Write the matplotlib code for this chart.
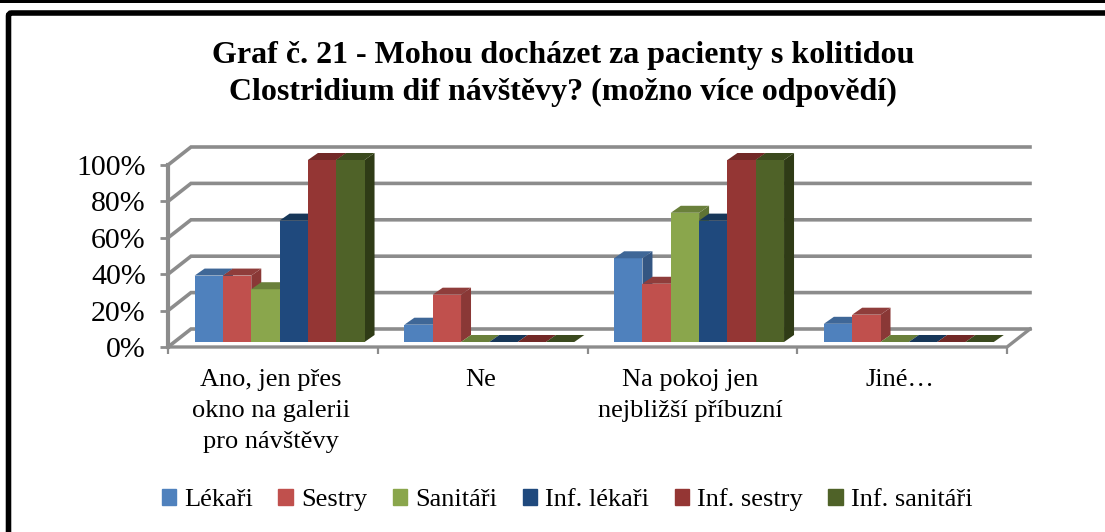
# Graf c. 21 - 3D style clustered columns drawn on a flat axes

import matplotlib
matplotlib.use("Agg")
import matplotlib.pyplot as plt
from matplotlib.patches import Polygon, FancyBboxPatch, Rectangle

categories = ["Ano, jen přes\nokno na galerii\npro návštěvy", "Ne", "Na pokoj jen\nnejbližší příbuzní", "Jiné…"]
series_names = ["Lékaři", "Sestry", "Sanitáři", "Inf. lékaři", "Inf. sestry", "Inf. sanitáři"]
lekari = [36.5, 9.5, 46, 10]
sestry = [36.5, 26, 32, 15]
sanitari = [29, 0, 71, 0]
inf_lekari = [66.7, 0, 66.7, 0]
inf_sestry = [100, 0, 100, 0]
inf_sanitari = [100, 0, 100, 0]
series = [lekari, sestry, sanitari, inf_lekari, inf_sestry, inf_sanitari]
yticks = [0, 20, 40, 60, 80, 100]

front = ["#4f81bd", "#c0504d", "#8aa64c", "#1f497d", "#943634", "#4f6228"]
top = ["#3f6797", "#8f3d3b", "#6a803b", "#173759", "#722927", "#3b4a1e"]
side = ["#345682", "#8a3836", "#5f7334", "#142f4f", "#642321", "#2f3b16"]
grid = "#8c8c8c"

W, H = 1105, 532
plt.rcParams["font.family"] = ["Liberation Serif", "DejaVu Serif"]
fig = plt.figure(figsize=(W / 100, H / 100), dpi=100)

# outer frame, page is cut off at the bottom and on the right
bg = fig.add_axes([0, 0, 1, 1])
bg.set_xlim(0, W)
bg.set_ylim(H, 0)
bg.axis("off")
bg.add_patch(Rectangle((0, 0), W, 3, color="black", lw=0))
bg.add_patch(FancyBboxPatch((8.5, 13), 1200, 600, boxstyle="round,pad=0,rounding_size=3",
                            fc="white", ec="black", lw=4))

# front plane of the chart
x0, x1, y0, y1 = 168, 1007, 347, 165
ax = fig.add_axes([x0 / W, 1 - y0 / H, (x1 - x0) / W, (y0 - y1) / H])
ax.set_xlim(0, 4)
ax.set_ylim(0, 100)
ax.patch.set_alpha(0)
for s in ax.spines.values():
    s.set_visible(False)

# depth of the floor in data units
dx = 23 / ((x1 - x0) / 4)
dy = 18 / ((y0 - y1) / 100)

for v in yticks:
    ax.plot([0, dx, 4 + dx], [v, v + dy, v + dy], color=grid, lw=2.6, clip_on=False, zorder=1, solid_joinstyle="miter")
ax.plot([0, 0], [0, 100], color=grid, lw=3, clip_on=False, zorder=1)
ax.plot([0, 4, 4 + dx], [0, 0, dy], color=grid, lw=2.4, clip_on=False, zorder=1)

# bars
bw = 0.135
bar_dx = 10 / ((x1 - x0) / 4)
bar_dy = 7 / ((y0 - y1) / 100)
off_y = 5 / ((y0 - y1) / 100)
z = 2
for c in range(len(categories)):
    start = c + 0.127
    for i, vals in enumerate(series):
        v = vals[c]
        left = start + i * bw
        right = left + bw
        base = off_y
        ax.add_patch(Polygon([(right, base), (right + bar_dx, base + bar_dy), (right + bar_dx, base + bar_dy + v),
                              (right, base + v)], fc=side[i], ec="none", zorder=z, clip_on=False))
        ax.bar(left, v, bw, bottom=base, align="edge", color=front[i], zorder=z + 1, clip_on=False)
        ax.add_patch(Polygon([(left, base + v), (left + bar_dx, base + v + bar_dy), (right + bar_dx, base + v + bar_dy),
                              (right, base + v)], fc=top[i], ec="none", zorder=z + 1, clip_on=False))
        z += 2

ax.set_yticks(yticks)
ax.set_yticklabels([f"{v}%" for v in yticks], fontsize=21.5, color="black")
ax.tick_params(axis="y", length=6, width=2, color=grid, pad=10)
ax.set_xticks([0, 1, 2, 3, 4])
ax.set_xticklabels([])
ax.tick_params(axis="x", length=5, width=1.6, color=grid)
for c, label in enumerate(categories):
    ax.annotate(label, (c + 0.5, 0), xytext=(-2, -22), textcoords="offset pixels", ha="center", va="top",
                fontsize=19, linespacing=1.53, annotation_clip=False)

fig.text(563 / W, 1 - 74 / H, "Graf č. 21 - Mohou docházet za pacienty s kolitidou\nClostridium dif návštěvy? (možno více odpovědí)",
         ha="center", va="center", fontsize=23, fontweight="bold", linespacing=1.35)

handles = [Rectangle((0, 0), 1, 1, color=c) for c in front]
fig.legend(handles, series_names, loc="center", bbox_to_anchor=(567 / W, 1 - 500 / H), ncol=6, frameon=False,
           fontsize=19, handlelength=0.55, handleheight=0.55, handletextpad=0.3, columnspacing=0.97)

fig.savefig("out.png", dpi=100)
